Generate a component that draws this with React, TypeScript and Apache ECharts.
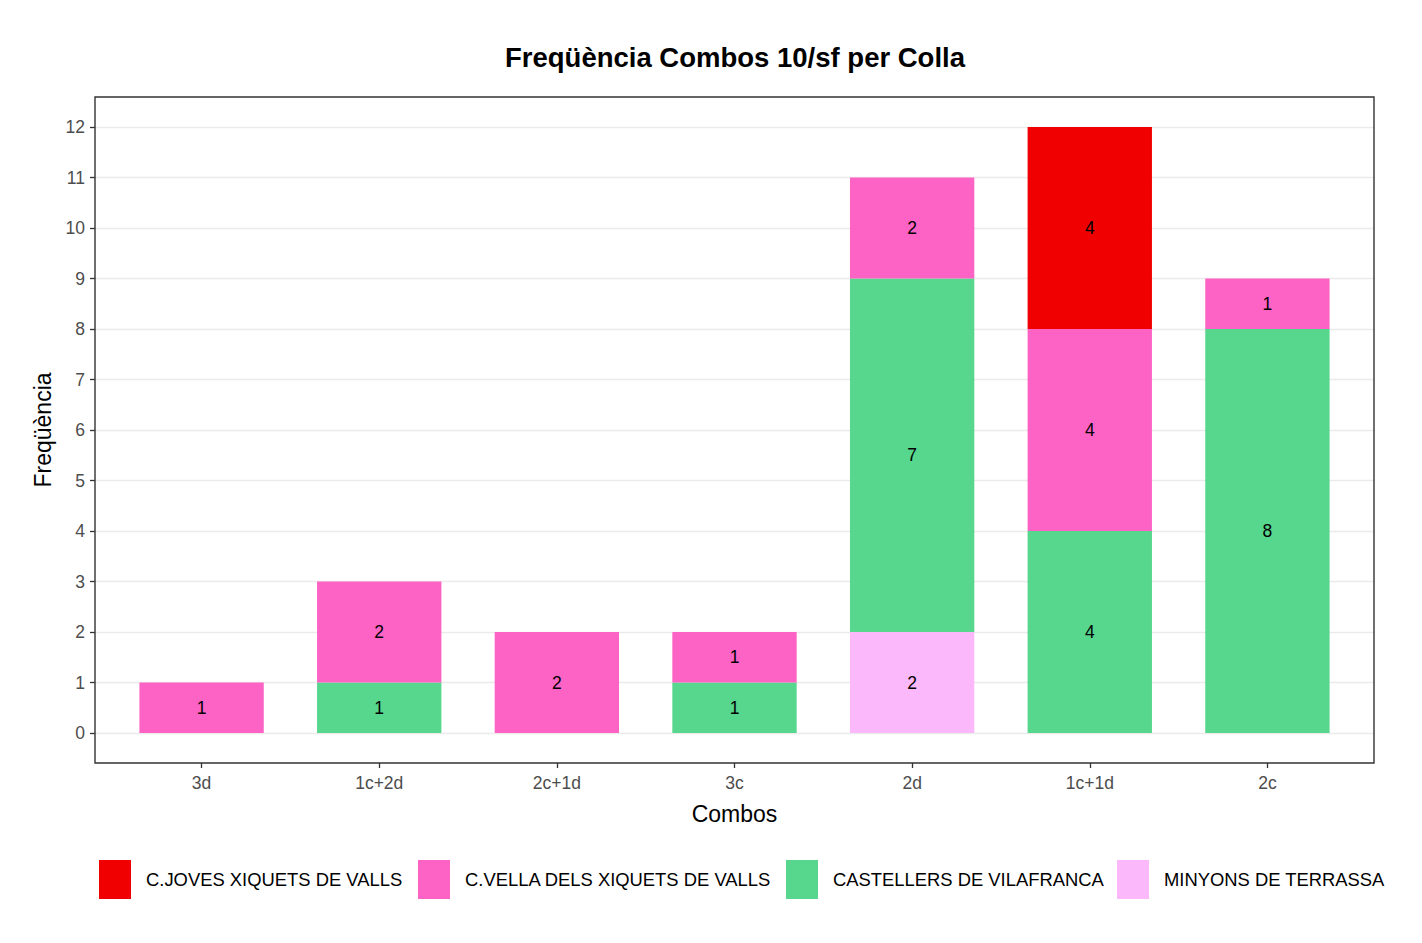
import React, { useEffect, useRef } from "react";
import * as echarts from "echarts";

const categories = ["3d", "1c+2d", "2c+1d", "3c", "2d", "1c+1d", "2c"];
const minyons = [0, 0, 0, 0, 2, 0, 0];
const castellers = [0, 1, 0, 1, 7, 4, 8];
const vella = [1, 2, 2, 1, 2, 4, 1];
const joves = [0, 0, 0, 0, 0, 4, 0];
const yTicks = [0, 12];

const FONT = "Liberation Sans, Arial, sans-serif";

const seriesDefs = [
  { name: "MINYONS DE TERRASSA", data: minyons, color: "#fbb8fb" },
  { name: "CASTELLERS DE VILAFRANCA", data: castellers, color: "#57d68d" },
  { name: "C.VELLA DELS XIQUETS DE VALLS", data: vella, color: "#fd63c4" },
  { name: "C.JOVES XIQUETS DE VALLS", data: joves, color: "#f00000" },
];

const legendOrder = [
  { name: "C.JOVES XIQUETS DE VALLS", left: 99 },
  { name: "C.VELLA DELS XIQUETS DE VALLS", left: 418 },
  { name: "CASTELLERS DE VILAFRANCA", left: 786 },
  { name: "MINYONS DE TERRASSA", left: 1117 },
];

export default function App() {
  const ref = useRef<HTMLDivElement>(null);
  useEffect(() => {
    if (!ref.current) return;
    const chart = echarts.init(ref.current, null, { renderer: "svg" });
    const panelLeft = 95, panelTop = 97, panelW = 1279, panelH = 666;
    const gridTop = 127, gridH = 606;
    const band = panelW / 7.2;
    const innerLeft = panelLeft + band * 0.1;
    const innerW = band * 7;
    const pad = ((panelH - gridH) / 2) / (gridH / (yTicks[1] - yTicks[0]));
    chart.setOption({
      animation: false,
      backgroundColor: "#ffffff",
      textStyle: { fontFamily: FONT },
      title: {
        text: "Freqüència Combos 10/sf per Colla",
        left: panelLeft + panelW / 2 - 4.5,
        textAlign: "center",
        top: 38,
        textStyle: { fontFamily: FONT, fontSize: 27.5, fontWeight: "bold", color: "#000" },
      },
      grid: [
        { left: panelLeft, top: gridTop, width: panelW, height: gridH, containLabel: false },
        { left: innerLeft, top: panelTop, width: innerW, height: panelH, containLabel: false },
      ],
      xAxis: [
        { type: "value", gridIndex: 0, show: false, min: 0, max: 1 },
        {
          type: "category",
          gridIndex: 1,
          data: categories,
          position: "bottom",
          axisLine: { show: false, onZero: false },
          axisTick: { show: true, alignWithLabel: true, length: 5, lineStyle: { color: "#333333", width: 1.3 } },
          axisLabel: { color: "#4d4d4d", fontSize: 17.5, margin: 11, fontFamily: FONT },
          name: "Combos",
          nameLocation: "middle",
          nameGap: 39,
          nameTextStyle: { color: "#000", fontSize: 23, fontFamily: FONT },
        },
      ],
      yAxis: [
        {
          type: "value",
          gridIndex: 0,
          min: yTicks[0],
          max: yTicks[1],
          interval: 1,
          axisLine: { show: false },
          axisTick: { show: true, length: 5, lineStyle: { color: "#333333", width: 1.3 } },
          axisLabel: { color: "#4d4d4d", fontSize: 17.5, margin: 10, fontFamily: FONT },
          splitLine: { show: true, lineStyle: { color: "#ebebeb", width: 1.3 } },
          name: "Freqüència",
          nameLocation: "middle",
          nameGap: 41,
          nameRotate: 90,
          nameTextStyle: { color: "#000", fontSize: 23, fontFamily: FONT },
        },
        {
          type: "value",
          gridIndex: 1,
          min: yTicks[0] - pad,
          max: yTicks[1] + pad,
          show: false,
          splitLine: { show: false },
        },
      ],
      legend: legendOrder.map((l) => ({
        data: [l.name],
        left: l.left,
        top: 860,
        itemWidth: 32,
        itemHeight: 39,
        icon: "rect",
        padding: 0,
        textStyle: { fontFamily: FONT, fontSize: 18.4, color: "#000", padding: [0, 0, 0, 10] },
      })),
      series: seriesDefs.map((s) => ({
        type: "bar",
        name: s.name,
        xAxisIndex: 1,
        yAxisIndex: 1,
        stack: "total",
        barWidth: band * 0.7,
        itemStyle: { color: s.color },
        data: s.data.map((v) => (v === 0 ? null : v)),
        label: {
          show: true,
          position: "inside",
          color: "#000",
          fontSize: 17.5,
          fontFamily: FONT,
        },
      })),
      graphic: [
        {
          type: "rect",
          shape: { x: panelLeft, y: panelTop, width: panelW, height: panelH },
          style: { fill: "none", stroke: "#333333", lineWidth: 1.4 },
          z: 100,
        },
      ],
    });
    return () => chart.dispose();
  }, []);
  return (
    <div
      ref={ref}
      style={{ position: "fixed", left: 0, top: 0, width: 1422, height: 943 }}
    />
  );
}
